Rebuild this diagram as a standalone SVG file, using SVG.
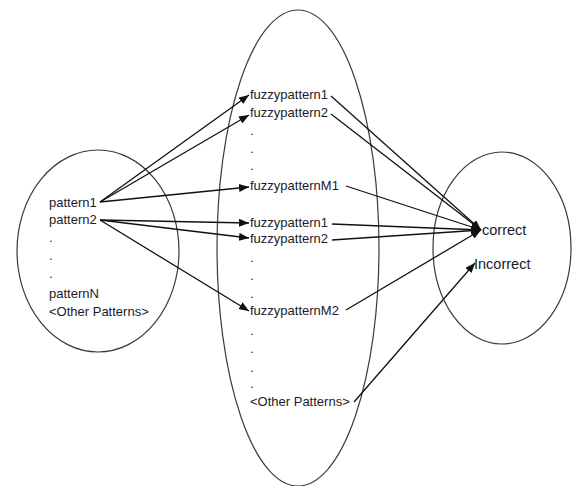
<svg xmlns="http://www.w3.org/2000/svg" width="574" height="486" viewBox="0 0 574 486">
  <style>
    .set { fill: none; stroke: #3a3a3a; stroke-width: 1.2; }
    .lbl { font-family: "Liberation Sans", Arial, sans-serif; font-size: 13px; fill: #1a1a2a; }
    .big { font-family: "Liberation Sans", Arial, sans-serif; font-size: 14.5px; fill: #1a1a2a; }
    .edge { fill: none; stroke: #111; stroke-width: 1.3; marker-end: url(#head); }
  </style>
  <defs>
    <marker id="head" viewBox="0 0 10 8" refX="10" refY="4" markerWidth="10" markerHeight="8" markerUnits="userSpaceOnUse" orient="auto">
      <path d="M0,0 L10,4 L0,8 Z" fill="#111"/>
    </marker>
  </defs>
  <rect width="574" height="486" fill="#ffffff"/>

  <!-- source patterns -->
  <g id="patterns">
    <ellipse class="set" cx="98" cy="251" rx="81" ry="101"/>
    <text class="lbl" x="49" y="207">pattern1</text>
    <text class="lbl" x="49" y="224">pattern2</text>
    <text class="lbl" x="49" y="242">.</text>
    <text class="lbl" x="49" y="260">.</text>
    <text class="lbl" x="49" y="278">.</text>
    <text class="lbl" x="49" y="298">patternN</text>
    <text class="lbl" x="49" y="316">&lt;Other Patterns&gt;</text>
  </g>

  <!-- fuzzy patterns -->
  <g id="fuzzy">
    <ellipse class="set" cx="298" cy="248" rx="81" ry="238"/>
    <text class="lbl" x="250" y="99">fuzzypattern1</text>
    <text class="lbl" x="250" y="117">fuzzypattern2</text>
    <text class="lbl" x="250" y="135">.</text>
    <text class="lbl" x="250" y="153">.</text>
    <text class="lbl" x="250" y="170">.</text>
    <text class="lbl" x="250" y="190">fuzzypatternM1</text>
    <text class="lbl" x="250" y="227">fuzzypattern1</text>
    <text class="lbl" x="250" y="243">fuzzypattern2</text>
    <text class="lbl" x="250" y="262">.</text>
    <text class="lbl" x="250" y="280">.</text>
    <text class="lbl" x="250" y="298">.</text>
    <text class="lbl" x="250" y="315">fuzzypatternM2</text>
    <text class="lbl" x="250" y="335">.</text>
    <text class="lbl" x="250" y="353">.</text>
    <text class="lbl" x="250" y="372">.</text>
    <text class="lbl" x="250" y="388">.</text>
    <text class="lbl" x="250" y="406">&lt;Other Patterns&gt;</text>
  </g>

  <!-- outcomes -->
  <g id="outcome">
    <ellipse class="set" cx="502" cy="248" rx="69" ry="96"/>
    <text class="big" x="482" y="235">correct</text>
    <text class="big" x="474" y="269">Incorrect</text>
  </g>

  <g id="connectors">
    <line class="edge" x1="100" y1="202" x2="249" y2="95"/>
    <line class="edge" x1="100" y1="202" x2="249" y2="115"/>
    <line class="edge" x1="100" y1="202" x2="249" y2="187"/>
    <line class="edge" x1="100" y1="220" x2="249" y2="223"/>
    <line class="edge" x1="100" y1="220" x2="249" y2="238"/>
    <line class="edge" x1="100" y1="220" x2="249" y2="311"/>
    <line class="edge" x1="331" y1="96" x2="481" y2="230"/>
    <line class="edge" x1="331" y1="114" x2="481" y2="230"/>
    <line class="edge" x1="346" y1="186" x2="481" y2="230"/>
    <line class="edge" x1="332" y1="224" x2="481" y2="230"/>
    <line class="edge" x1="332" y1="240" x2="481" y2="230"/>
    <line class="edge" x1="346" y1="310" x2="481" y2="230"/>
    <line class="edge" x1="354" y1="402" x2="475" y2="263"/>
  </g>
</svg>
